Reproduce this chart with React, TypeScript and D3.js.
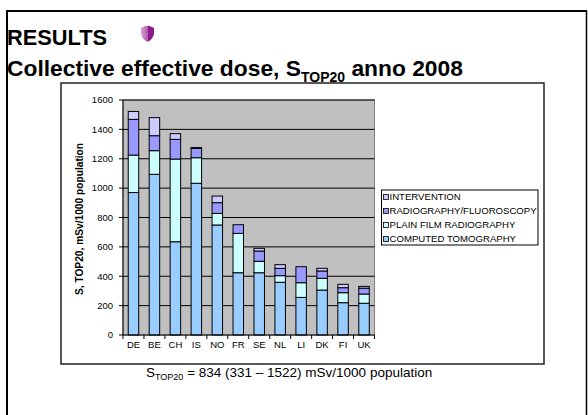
import React from "react";
import * as d3 from "d3";

const countries = ["DE", "BE", "CH", "IS", "NO", "FR", "SE", "NL", "LI", "DK", "FI", "UK"];
const computedTomography = [970, 1094, 635, 1033, 749, 424, 424, 359, 256, 306, 220, 216];
const plainFilm = [255, 161, 563, 174, 79, 268, 78, 45, 100, 80, 68, 63];
const radiography = [243, 102, 134, 63, 73, 59, 70, 50, 109, 50, 34, 40];
const intervention = [54, 123, 39, 6, 45, 0, 18, 25, 0, 18, 23, 12];
const yTicks = [0, 200, 400, 600, 800, 1000, 1200, 1400, 1600];

const seriesNames = [
  "COMPUTED TOMOGRAPHY",
  "PLAIN FILM RADIOGRAPHY",
  "RADIOGRAPHY/FLUOROSCOPY",
  "INTERVENTION",
];
const seriesColors = ["#99CCFF", "#CCFFFF", "#9999FF", "#CCCCFF"];

const FONT = "Arial, 'Liberation Sans', sans-serif";

export default function App() {
  const plot = { left: 123, right: 374.5, top: 100, bottom: 335 };
  const xb = d3
    .scaleBand<string>()
    .domain(countries)
    .range([plot.left, plot.right])
    .paddingInner(0.5)
    .paddingOuter(0.25);
  const y = d3.scaleLinear().domain([0, 1600]).range([plot.bottom, plot.top]);

  const table = countries.map((c, i) => ({
    country: c,
    s0: computedTomography[i],
    s1: plainFilm[i],
    s2: radiography[i],
    s3: intervention[i],
  }));
  const stack = d3.stack<any>().keys(["s0", "s1", "s2", "s3"])(table);

  const step = xb.step();
  const boundaries = d3.range(countries.length + 1).map((i) => plot.left + i * step);

  return (
    <svg
      width={588}
      height={415}
      style={{ position: "absolute", left: 0, top: 0, background: "#fff" }}
      fontFamily={FONT}
    >
      {/* slide frame */}
      <line x1={7} y1={11} x2={7} y2={415} stroke="#000" strokeWidth={2} />
      <line x1={6} y1={11} x2={587} y2={11} stroke="#000" strokeWidth={2} />
      <line x1={586.5} y1={11} x2={586.5} y2={415} stroke="#000" strokeWidth={1.5} />

      {/* title */}
      <text x={7} y={45} fontSize={21.8} fontWeight="bold" fill="#000">RESULTS</text>
      <g transform="translate(140,26)">
        <defs>
          <linearGradient id="shieldL" x1="0" x2="1" y1="0" y2="0">
            <stop offset="0" stopColor="#d9a0d9" />
            <stop offset="1" stopColor="#b060b0" />
          </linearGradient>
        </defs>
        <path d="M1,2 Q7,-1 7.5,0 L7.5,16 Q2,13 1,8 Z" fill="url(#shieldL)" />
        <path d="M7.5,0 Q8,-1 14,2 L14,8 Q13,13 7.5,16 Z" fill="#8a1a8a" />
      </g>
      <text x={7} y={76} fontSize={22.8} fontWeight="bold" fill="#000">
        Collective effective dose, S
        <tspan fontSize={14} dy={6}>TOP20</tspan>
        <tspan dy={-6}> anno 2008</tspan>
      </text>

      {/* chart area */}
      <rect x={61} y={83} width={483} height={281} fill="#fff" stroke="#222" strokeWidth={1.5} />

      {/* plot area */}
      <rect
        x={plot.left}
        y={plot.top}
        width={plot.right - plot.left}
        height={plot.bottom - plot.top}
        fill="#C0C0C0"
        stroke="#808080"
        strokeWidth={1}
      />
      {yTicks.map((t) => (
        <g key={t}>
          {t > 0 && (
            <line x1={plot.left} x2={plot.right} y1={y(t)} y2={y(t)} stroke="#000" strokeWidth={1} />
          )}
          <line x1={plot.left - 4} x2={plot.left} y1={y(t)} y2={y(t)} stroke="#000" strokeWidth={1} />
          <text x={113} y={y(t)} dy="0.35em" textAnchor="end" fontSize={9.5} fill="#000">
            {t}
          </text>
        </g>
      ))}

      {/* bars */}
      {stack.map((layer, li) => (
        <g key={li}>
          {layer.map((d, i) =>
            d[1] - d[0] > 0 ? (
              <rect
                key={i}
                x={xb(countries[i])!}
                width={xb.bandwidth()}
                y={y(d[1])}
                height={y(d[0]) - y(d[1])}
                fill={seriesColors[li]}
                stroke="#000"
                strokeWidth={1}
              />
            ) : null
          )}
        </g>
      ))}

      {/* axes */}
      <line x1={plot.left} x2={plot.left} y1={plot.top} y2={plot.bottom} stroke="#000" strokeWidth={1} />
      <line x1={plot.left} x2={plot.right} y1={plot.bottom} y2={plot.bottom} stroke="#000" strokeWidth={1} />
      {boundaries.map((b, i) => (
        <line key={i} x1={b} x2={b} y1={plot.bottom} y2={plot.bottom + 4} stroke="#000" strokeWidth={1} />
      ))}
      {countries.map((c) => (
        <text key={c} x={xb(c)! + xb.bandwidth() / 2} y={348} textAnchor="middle" fontSize={9.5} fill="#000">
          {c}
        </text>
      ))}

      {/* y title */}
      <text
        transform={`translate(83,219) rotate(-90)`}
        textAnchor="middle"
        fontSize={10.2}
        fontWeight="bold"
        fill="#000"
      >
        S, TOP20, mSv/1000 population
      </text>

      {/* legend */}
      <rect x={381.5} y={190} width={156.5} height={55} fill="#fff" stroke="#000" strokeWidth={1} />
      {[3, 2, 1, 0].map((si, k) => {
        const cy = 197 + k * 14;
        return (
          <g key={si}>
            <rect x={383.5} y={cy - 2.5} width={5} height={5} fill={seriesColors[si]} stroke="#000" strokeWidth={0.8} />
            <text x={389.5} y={cy} dy="0.35em" fontSize={9.6} fill="#000">
              {seriesNames[si]}
            </text>
          </g>
        );
      })}

      {/* footnote */}
      <text x={146} y={377} fontSize={13.5} fill="#000">
        S<tspan fontSize={9} dy={3}>TOP20</tspan>
        <tspan dy={-3}> = 834 (331 – 1522) mSv/1000 population</tspan>
      </text>
    </svg>
  );
}
